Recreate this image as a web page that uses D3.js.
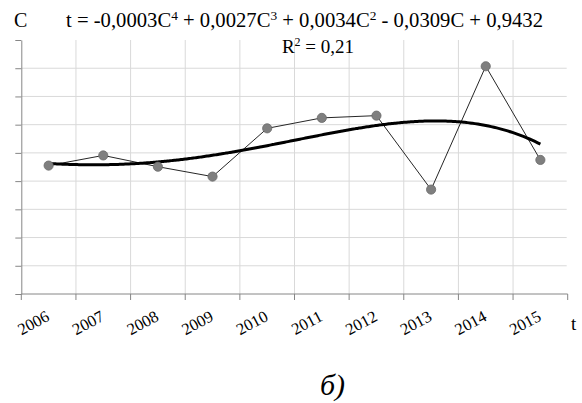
<!DOCTYPE html>
<html>
<head>
<meta charset="utf-8">
<script src="https://cdn.jsdelivr.net/npm/d3@7"></script>
</head>
<body style="margin:0;background:#fff">
<svg id="chart" width="582" height="403" style="display:block"></svg>
<script>
// Observed series
const years = ["2006", "2007", "2008", "2009", "2010", "2011", "2012", "2013", "2014", "2015"];
const values = [0.955, 0.991, 0.951, 0.916, 1.087, 1.124, 1.132, 0.870, 1.307, 0.975];
// Value axis ticks (unlabelled)
const yTicks = [0.5, 0.6, 0.7, 0.8, 0.9, 1.0, 1.1, 1.2, 1.3, 1.4];
// Trend equation text
const eqParts = [
  ["t = -0,0003C", false], ["4", true], [" + 0,0027C", false], ["3", true],
  [" + 0,0034C", false], ["2", true], [" - 0,0309C + 0,9432", false]
];
const r2Parts = [["R", false], ["2", true], [" = 0,21", false]];

const FONT = '"Liberation Serif"';
const svg = d3.select("#chart");
const plotLeft = 21.3, plotRight = 567.7, plotTop = 40, plotBottom = 294;

const x = d3.scaleBand().domain(years).range([plotLeft, plotRight]).padding(0);
const y = d3.scaleLinear().domain([0.5, 1.4]).range([plotBottom, plotTop]);
// continuous index scale (1..n at band centres) for the trend curve
const xi = d3.scaleLinear().domain([0.5, years.length + 0.5]).range([plotLeft, plotRight]);

// horizontal gridlines
svg.append("g").selectAll("line")
  .data(yTicks.filter(v => v > 0.5 + 1e-9 && v < 1.4 - 1e-9))
  .join("line")
  .attr("x1", plotLeft).attr("x2", plotRight - 1)
  .attr("y1", d => y(d)).attr("y2", d => y(d))
  .attr("stroke", "#d9d9d9").attr("stroke-width", 1);

// vertical gridlines between categories
svg.append("g").selectAll("line")
  .data(years.slice(1))
  .join("line")
  .attr("x1", d => x(d)).attr("x2", d => x(d))
  .attr("y1", plotTop).attr("y2", plotBottom)
  .attr("stroke", "#d9d9d9").attr("stroke-width", 1);

// y axis (ticks without labels)
const yAxis = svg.append("g")
  .attr("transform", `translate(${plotLeft},0)`)
  .call(d3.axisLeft(y).tickValues(yTicks).tickSize(6).tickFormat("").tickSizeOuter(0));
yAxis.selectAll("path, line").attr("stroke", "#868686");

// x axis with boundary ticks
const xAxisG = svg.append("g").attr("transform", `translate(0,${plotBottom})`);
xAxisG.append("line").attr("x1", plotLeft).attr("x2", plotRight)
  .attr("stroke", "#868686");
xAxisG.selectAll("line.tk")
  .data(d3.range(years.length + 1))
  .join("line").attr("class", "tk")
  .attr("x1", i => xi(i + 0.5)).attr("x2", i => xi(i + 0.5))
  .attr("y1", 0).attr("y2", 6)
  .attr("stroke", "#868686");

// rotated year labels
svg.append("g").selectAll("text")
  .data(years)
  .join("text")
  .attr("transform", d => `translate(${x(d) + x.bandwidth() / 2 + 2},320) rotate(-28)`)
  .attr("text-anchor", "end")
  .style("font-family", FONT).style("font-size", "16.5px")
  .text(d => d);

// axis letters
svg.append("text").attr("x", 571).attr("y", 330)
  .style("font-family", FONT).style("font-size", "19px").text("t");
svg.append("text").attr("x", 14).attr("y", 27)
  .style("font-family", FONT).style("font-size", "20px").text("C");

// data line and markers
const pts = values.map((v, i) => [x(years[i]) + x.bandwidth() / 2, y(v)]);
svg.append("path")
  .attr("d", d3.line()(pts))
  .attr("fill", "none").attr("stroke", "#262626").attr("stroke-width", 1);

// 4th-degree least-squares polynomial trend
function polyfit(xs, ys, deg) {
  const n = deg + 1;
  const A = Array.from({length: n}, () => new Array(n + 1).fill(0));
  for (let k = 0; k < xs.length; k++) {
    for (let i = 0; i < n; i++) {
      for (let j = 0; j < n; j++) A[i][j] += Math.pow(xs[k], i + j);
      A[i][n] += ys[k] * Math.pow(xs[k], i);
    }
  }
  for (let c = 0; c < n; c++) {
    let p = c;
    for (let r = c + 1; r < n; r++) if (Math.abs(A[r][c]) > Math.abs(A[p][c])) p = r;
    [A[c], A[p]] = [A[p], A[c]];
    for (let r = 0; r < n; r++) {
      if (r === c) continue;
      const f = A[r][c] / A[c][c];
      for (let j = c; j <= n; j++) A[r][j] -= f * A[c][j];
    }
  }
  return A.map((row, i) => row[n] / row[i]);
}
const idx = years.map((_, i) => i + 1);
const coef = polyfit(idx, values, 4);
const evalPoly = t => coef.reduce((s, c, i) => s + c * Math.pow(t, i), 0);
const trendPts = d3.range(1, years.length + 0.001, 0.05).map(t => [xi(t), y(evalPoly(t))]);
svg.append("path")
  .attr("d", d3.line().curve(d3.curveBasis)(trendPts))
  .attr("fill", "none").attr("stroke", "#000").attr("stroke-width", 3);

svg.append("g").selectAll("circle")
  .data(pts)
  .join("circle")
  .attr("cx", d => d[0]).attr("cy", d => d[1]).attr("r", 4.6)
  .attr("fill", "#7f7f7f").attr("stroke", "#6a6a6a").attr("stroke-width", 0.8);

// equation and R² (text with superscripts)
function richText(parts, size) {
  const t = svg.append("text").attr("x", 0).attr("y", 0)
    .style("font-family", FONT).style("font-size", size + "px");
  let raised = false;
  parts.forEach(([s, sup]) => {
    if (sup) { t.append("tspan").style("font-size", Math.round(size * 0.63) + "px").attr("dy", -size * 0.37).text(s); raised = true; }
    else { t.append("tspan").attr("dy", raised ? size * 0.37 : 0).text(s); raised = false; }
  });
  return t;
}
// equation stretched to span 66..543
const eq = richText(eqParts, 20);
const eqW = eq.node().getComputedTextLength();
eq.attr("transform", `translate(66,27) scale(${477 / eqW},1)`);
// R² centred under the equation
const r2 = richText(r2Parts, 19);
const r2W = r2.node().getComputedTextLength();
r2.attr("transform", `translate(${318 - r2W / 2},53)`);

// panel caption
svg.append("text").attr("x", 320).attr("y", 395)
  .style("font-family", FONT).style("font-size", "30px").style("font-style", "italic")
  .text("б)");
</script>
</body>
</html>
